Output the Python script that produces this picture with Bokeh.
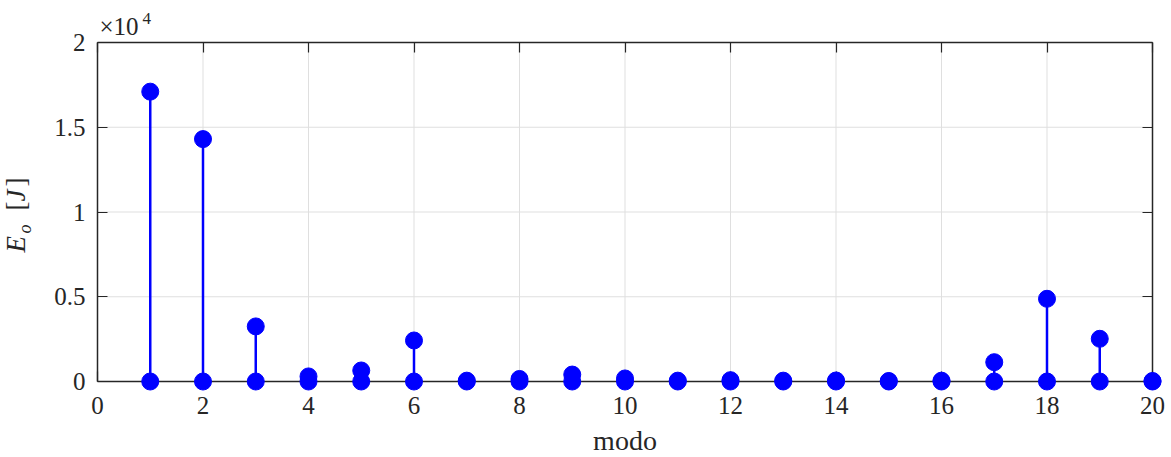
import math
from bokeh.plotting import figure
from bokeh.models import Range1d, LinearAxis, FixedTicker, Label
from bokeh.embed import file_html
from bokeh.resources import INLINE

# ---- data ----
modes = [1, 2, 3, 4, 5, 6, 7, 8, 9, 10, 11, 12, 13, 14, 15, 16, 17, 18, 19, 20]
energies = [17100, 14300, 3250, 300, 650, 2420, 50, 150, 410, 180,
            50, 80, 50, 60, 30, 50, 1140, 4880, 2520, 30]
baseline = 0
x_ticks = [0, 2, 4, 6, 8, 10, 12, 14, 16, 18, 20]
y_ticks = [0, 5000, 10000, 15000, 20000]
y_tick_labels = ["0", "0.5", "1", "1.5", "2"]
x_label = "modo"
exp_base = "\u00d710"
exp_power = "4"

# ---- layout constants (pixels) ----
W, H = 1171, 457
L, R, T, B = 97, 1152, 42, 381   # axes box inside the canvas
xmin, xmax = 0, 20
ymin, ymax = 0, 20000
sx = (R - L) / (xmax - xmin)
sy = (B - T) / (ymax - ymin)
DESC = 0.27                        # baseline correction, in em


def xd(px):
    return xmin + (px - L) / sx


def yd(py):
    return ymin + (B - py) / sy


FONT = "Liberation Serif"
AX = "#262626"
BLUE = "#0000ff"
GRID = "#dfdfdf"

# the frame covers the whole canvas so nothing (markers, texts) is clipped
p = figure(width=W, height=H, output_backend="svg", toolbar_location=None,
           x_range=Range1d(xd(0), xd(W)), y_range=Range1d(yd(H), yd(0)),
           x_axis_location=None, y_axis_location=None,
           min_border=0, min_border_left=0, min_border_right=0,
           min_border_top=0, min_border_bottom=0)
p.title.visible = False
p.outline_line_color = None
p.background_fill_color = "white"
p.border_fill_color = "white"
p.xgrid.visible = False
p.ygrid.visible = False

# grid lines at the ticks, limited to the axes box
p.segment(x0=x_ticks, y0=ymin, x1=x_ticks, y1=ymax,
          line_color=GRID, line_width=1, level="underlay")
p.segment(x0=xmin, y0=y_ticks, x1=xmax, y1=y_ticks,
          line_color=GRID, line_width=1, level="underlay")


def make_axis(ticks, bounds, loc, side, overrides, standoff):
    ax = LinearAxis(ticker=FixedTicker(ticks=ticks), bounds=bounds,
                    fixed_location=loc, major_label_overrides=overrides)
    ax.axis_line_color = AX
    ax.axis_line_width = 1.5
    ax.major_tick_line_color = AX
    ax.major_tick_line_width = 1.2
    ax.major_tick_in = 10
    ax.major_tick_out = 0
    ax.minor_tick_line_color = None
    ax.major_label_text_font = FONT
    ax.major_label_text_color = AX
    ax.major_label_text_font_size = "25px"
    ax.major_label_standoff = standoff
    p.add_layout(ax, side)
    return ax


blank_x = {t: "" for t in x_ticks}
blank_y = {t: "" for t in y_ticks}
make_axis(y_ticks, (ymin, ymax), xmin, "left",
          {t: s for t, s in zip(y_ticks, y_tick_labels)}, 12)
make_axis(x_ticks, (xmin, xmax), ymin, "below",
          {t: str(t) for t in x_ticks}, 15)
make_axis(x_ticks, (xmin, xmax), ymax, "above", blank_x, 0)
make_axis(y_ticks, (ymin, ymax), xmax, "right", blank_y, 0)

# stems and markers
p.segment(x0=modes, y0=baseline, x1=modes, y1=energies,
          line_color=BLUE, line_width=2.5, level="overlay")
p.scatter(x=modes, y=baseline, size=17, marker="circle",
          fill_color=BLUE, line_color=BLUE, level="overlay")
p.scatter(x=modes, y=energies, size=17, marker="circle",
          fill_color=BLUE, line_color=BLUE, level="overlay")


def text(txt, px, py, fs, style="normal", align="left", angle=0.0):
    # (px, py) = wanted baseline position in canvas pixels
    if angle:
        px = px - DESC * fs
    else:
        py = py - DESC * fs
    p.add_layout(Label(x=xd(px), y=yd(py), text=txt, angle=angle,
                       text_font=FONT, text_font_size=f"{fs}px",
                       text_font_style=style, text_color=AX,
                       text_align=align, text_baseline="alphabetic"))


# x label
text(x_label, (L + R) / 2, 448, 28, align="center")

# exponent  x10^4
text(exp_base, 99, 33, 25)
text(exp_power, 142, 23, 17)

# y label  E_o [J]
rot = math.pi / 2
text("E", 23, 252, 27, "italic", angle=rot)
text("o", 29, 233, 18, "italic", angle=rot)
text("[", 23, 210, 27, angle=rot)
text("J", 23, 201, 27, "italic", angle=rot)
text("]", 23, 186, 27, angle=rot)

open("out.html", "w").write(file_html(p, INLINE))
